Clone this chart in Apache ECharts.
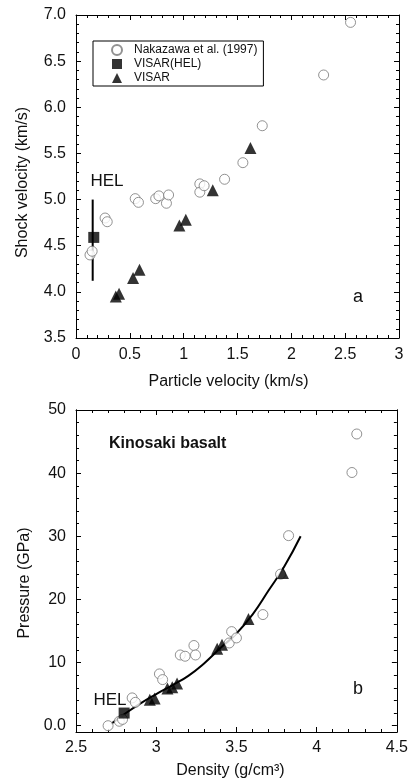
<!DOCTYPE html>
<html><head><meta charset="utf-8">
<script src="https://cdn.jsdelivr.net/npm/echarts@6/dist/echarts.min.js"></script>
<style>html,body{margin:0;padding:0;background:#fff}#c{width:411px;height:782px}</style>
</head><body><div id="c"></div>
<script>
// ---------- Panel a: shock velocity vs particle velocity ----------
const nakUp = [0.13, 0.15, 0.27, 0.29, 0.55, 0.58, 0.74, 0.77, 0.84, 0.86, 1.15, 1.15, 1.19, 1.38, 1.55, 1.73, 2.30, 2.55];
const nakUs = [4.40, 4.44, 4.80, 4.76, 5.01, 4.97, 5.01, 5.04, 4.96, 5.05, 5.17, 5.08, 5.15, 5.22, 5.40, 5.80, 6.35, 6.92];
const visarUp = [0.37, 0.40, 0.53, 0.59, 0.96, 1.02, 1.27, 1.62];
const visarUs = [3.95, 3.98, 4.15, 4.24, 4.72, 4.78, 5.10, 5.56];
const helUp = [0.165];
const helUs = [4.59];
const helBarUp = [0.155, 0.155];
const helBarUs = [4.12, 5.00];

// ---------- Panel b: pressure vs density ----------
const nakRho = [2.70, 2.77, 2.79, 2.85, 2.87, 3.02, 3.04, 3.15, 3.18, 3.235, 3.245, 3.455, 3.47, 3.50, 3.665, 3.775, 3.825, 4.22, 4.25];
const nakP   = [0.0, 0.7, 1.0, 4.4, 3.7, 8.2, 7.3, 11.2, 11.0, 12.7, 11.2, 13.1, 14.9, 13.9, 17.6, 24.0, 30.1, 40.1, 46.2];
const visarRho = [2.96, 2.99, 3.07, 3.10, 3.13, 3.38, 3.41, 3.575, 3.79];
const visarP   = [4.1, 4.3, 5.9, 6.1, 6.7, 12.2, 12.8, 16.9, 24.2];
const helRho = [2.80];
const helP = [2.0];
const fitRho = [2.72, 2.80, 2.90, 3.00, 3.10, 3.20, 3.30, 3.40, 3.50, 3.60, 3.70, 3.80, 3.90];
const fitP   = [0.3, 1.8, 3.5, 5.0, 6.4, 7.9, 9.9, 12.3, 14.6, 17.6, 21.4, 25.3, 30.0];

// tick labels
const aXTicks = [0, 0.5, 1, 1.5, 2, 2.5, 3];
const aYTicks = [3.5, 4.0, 4.5, 5.0, 5.5, 6.0, 6.5, 7.0];
const bXTicks = [2.5, 3, 3.5, 4, 4.5];
const bYTicks = [0, 10, 20, 30, 40, 50];
const bYMinor = [2, 4, 6, 8, 12, 14, 16, 18, 22, 24, 26, 28, 32, 34, 36, 38, 42, 44, 46, 48];

const zip = (a, b) => a.map((v, i) => [v, b[i]]);
const FONT = '"Liberation Sans", Arial, Helvetica, sans-serif';

const baseAxis = {
  axisLine: { show: true, onZero: false, lineStyle: { color: '#000', width: 1 } },
  axisTick: { show: true, inside: true, length: 5, lineStyle: { color: '#000', width: 1 } },
  minorTick: { show: true, splitNumber: 5, length: 3, lineStyle: { color: '#000', width: 1 } },
  splitLine: { show: false },
  minorSplitLine: { show: false },
  axisLabel: { color: '#111', fontSize: 16, fontFamily: FONT },
  nameTextStyle: { color: '#111', fontSize: 16, fontFamily: FONT }
};
const ax = (o) => Object.assign({}, JSON.parse(JSON.stringify(baseAxis)), o);
const nameStyle = (pad) => ({ color: '#111', fontSize: 16, fontFamily: FONT, padding: pad });

const chart = echarts.init(document.getElementById('c'), null, { renderer: 'canvas' });
chart.setOption({
  animation: false,
  backgroundColor: '#fff',
  textStyle: { fontFamily: FONT },
  grid: [
    { left: 76, top: 15, width: 323, height: 323, containLabel: false },
    { left: 76, top: 410, width: 324, height: 322, containLabel: false }
  ],
  legend: {
    data: ['Nakazawa et al. (1997)', 'VISAR(HEL)', 'VISAR'],
    orient: 'vertical',
    left: 93, top: 41,
    borderColor: '#000', borderWidth: 1, borderRadius: 0,
    padding: [3, 6, 2, 18],
    itemGap: 2, itemWidth: 10, itemHeight: 10,
    selectedMode: false,
    formatter: '{t|{name}}',
    textStyle: { color: '#111', fontSize: 12, fontFamily: FONT,
      rich: { t: { fontSize: 12, fontFamily: FONT, color: '#111', padding: [0, 0, 0, 7] } } }
  },
  xAxis: [
    ax({ gridIndex: 0, type: 'value', min: 0, max: 3, interval: 0.5, position: 'bottom',
      name: 'Particle velocity (km/s)', nameLocation: 'middle', nameGap: 36,
      nameTextStyle: nameStyle([0, 18, 0, 0]),
      axisLabel: { color: '#111', fontSize: 16, fontFamily: FONT, margin: 9 } }),
    ax({ gridIndex: 0, type: 'value', min: 0, max: 3, interval: 0.5, position: 'top',
      axisLabel: { show: false } }),
    ax({ gridIndex: 1, type: 'value', min: 2.5, max: 4.5, interval: 0.5, position: 'bottom',
      name: 'Density (g/cm³)', nameLocation: 'middle', nameGap: 31,
      nameTextStyle: nameStyle([0, 12, 0, 0]),
      axisLabel: { color: '#111', fontSize: 16, fontFamily: FONT, margin: 8 } }),
    ax({ gridIndex: 1, type: 'value', min: 2.5, max: 4.5, interval: 0.5, position: 'top',
      axisLabel: { show: false } })
  ],
  yAxis: [
    ax({ gridIndex: 0, type: 'value', min: 3.5, max: 7, interval: 0.5, position: 'left',
      name: 'Shock velocity (km/s)', nameLocation: 'middle', nameGap: 45,
      nameTextStyle: nameStyle([0, 12, 0, 0]),
      axisLabel: { color: '#111', fontSize: 16, fontFamily: FONT, margin: 10,
        formatter: v => v.toFixed(1) } }),
    ax({ gridIndex: 0, type: 'value', min: 3.5, max: 7, interval: 0.5, position: 'right',
      axisLabel: { show: false } }),
    ax({ gridIndex: 1, type: 'value', min: -1, max: 50, position: 'left',
      name: 'Pressure (GPa)', nameLocation: 'middle', nameGap: 36,
      nameTextStyle: nameStyle([0, 24, 0, 0]),
      minorTick: { show: false },
      axisTick: { show: true, inside: true, length: 5, customValues: bYTicks, lineStyle: { color: '#000' } },
      axisLabel: { color: '#111', fontSize: 16, fontFamily: FONT, margin: 10, customValues: bYTicks,
        formatter: v => (v === 0 ? '0.0' : String(v)) } }),
    ax({ gridIndex: 1, type: 'value', min: -1, max: 50, position: 'right',
      minorTick: { show: false },
      axisTick: { show: true, inside: true, length: 5, customValues: bYTicks, lineStyle: { color: '#000' } },
      axisLabel: { show: false, customValues: bYTicks } }),
    ax({ gridIndex: 1, type: 'value', min: -1, max: 50, position: 'left',
      minorTick: { show: false },
      axisTick: { show: true, inside: true, length: 3, customValues: bYMinor, lineStyle: { color: '#000' } },
      axisLabel: { show: false, customValues: bYMinor } }),
    ax({ gridIndex: 1, type: 'value', min: -1, max: 50, position: 'right',
      minorTick: { show: false },
      axisTick: { show: true, inside: true, length: 3, customValues: bYMinor, lineStyle: { color: '#000' } },
      axisLabel: { show: false, customValues: bYMinor } })
  ],
  series: [
    { name: 'HEL range', type: 'line', xAxisIndex: 0, yAxisIndex: 0, data: zip(helBarUp, helBarUs),
      symbol: 'none', lineStyle: { color: '#000', width: 2 }, silent: true, z: 2 },
    { name: 'Nakazawa et al. (1997)', type: 'scatter', xAxisIndex: 0, yAxisIndex: 0, data: zip(nakUp, nakUs),
      symbol: 'circle', symbolSize: 10,
      itemStyle: { color: '#fff', borderColor: '#777', borderWidth: 1 }, z: 3 },
    { name: 'VISAR(HEL)', type: 'scatter', xAxisIndex: 0, yAxisIndex: 0, data: zip(helUp, helUs),
      symbol: 'rect', symbolSize: 11, itemStyle: { color: '#000' }, z: 5 },
    { name: 'VISAR', type: 'scatter', xAxisIndex: 0, yAxisIndex: 0, data: zip(visarUp, visarUs),
      symbol: 'triangle', symbolSize: 12, itemStyle: { color: '#000' }, z: 4 },

    { name: 'Hugoniot fit', type: 'line', xAxisIndex: 2, yAxisIndex: 2, data: zip(fitRho, fitP),
      smooth: true, symbol: 'none', lineStyle: { color: '#000', width: 2 }, silent: true, z: 2 },
    { name: 'Nakazawa et al. (1997)', type: 'scatter', xAxisIndex: 2, yAxisIndex: 2, data: zip(nakRho, nakP),
      symbol: 'circle', symbolSize: 10,
      itemStyle: { color: '#fff', borderColor: '#777', borderWidth: 1 }, z: 3 },
    { name: 'VISAR(HEL)', type: 'scatter', xAxisIndex: 2, yAxisIndex: 2, data: zip(helRho, helP),
      symbol: 'rect', symbolSize: 11, itemStyle: { color: '#000' }, z: 5 },
    { name: 'VISAR', type: 'scatter', xAxisIndex: 2, yAxisIndex: 2, data: zip(visarRho, visarP),
      symbol: 'triangle', symbolSize: 12, itemStyle: { color: '#000' }, z: 4 }
  ],
  graphic: [
    { type: 'text', x: 107, y: 181, style: { text: 'HEL', fontSize: 17, fontFamily: FONT, fill: '#111', align: 'center', verticalAlign: 'middle' } },
    { type: 'text', x: 358, y: 297, style: { text: 'a', fontSize: 18, fontFamily: FONT, fill: '#111', align: 'center', verticalAlign: 'middle' } },
    { type: 'text', x: 109, y: 444, style: { text: 'Kinosaki basalt', fontSize: 16, fontWeight: 'bold', fontFamily: FONT, fill: '#111', align: 'left', verticalAlign: 'middle' } },
    { type: 'text', x: 110, y: 700, style: { text: 'HEL', fontSize: 17, fontFamily: FONT, fill: '#111', align: 'center', verticalAlign: 'middle' } },
    { type: 'text', x: 358, y: 689, style: { text: 'b', fontSize: 18, fontFamily: FONT, fill: '#111', align: 'center', verticalAlign: 'middle' } }
  ]
});
</script>
</body></html>
